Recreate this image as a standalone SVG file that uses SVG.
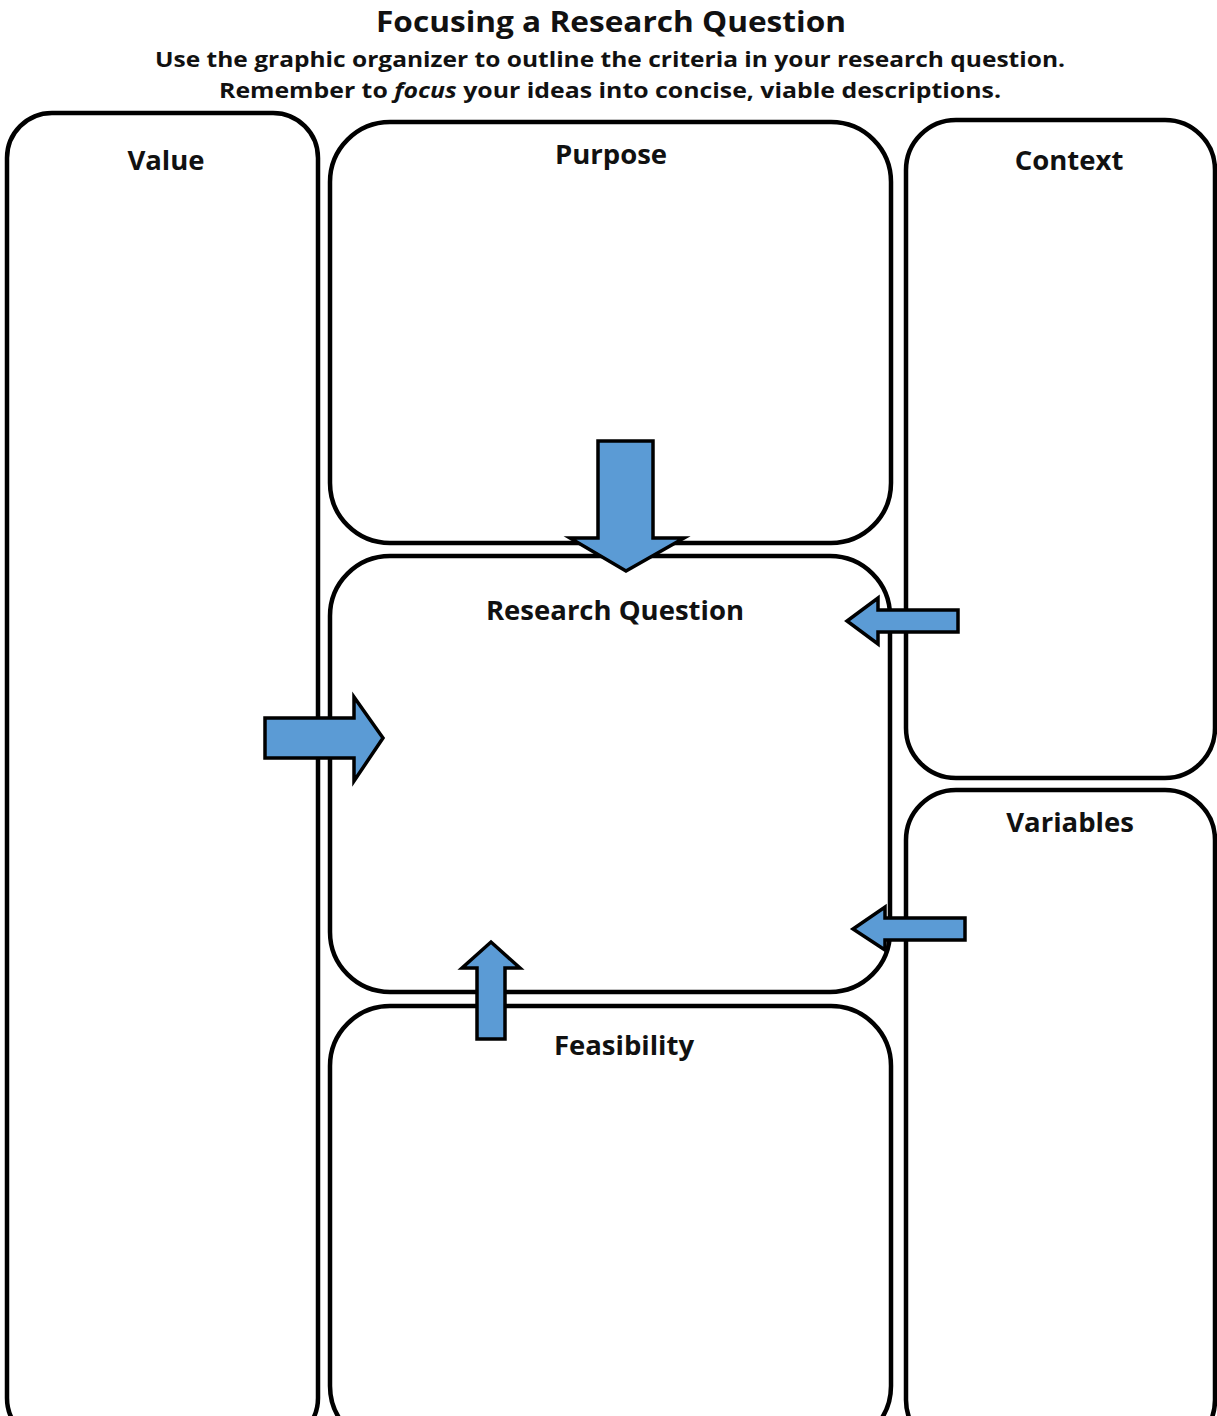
<svg xmlns="http://www.w3.org/2000/svg" width="1217" height="1416" viewBox="0 0 1217 1416">
<style>
.box{fill:none;stroke:#000;stroke-width:4.5}
.arrow{fill:#5b9bd5;stroke:#000;stroke-width:3.5;stroke-linejoin:miter}
.lbl{font-family:"Open Sans","Noto Sans","Liberation Sans",sans-serif;font-weight:bold;font-size:27.5px;fill:#111;text-anchor:middle}
.ttl{font-family:"Open Sans","Noto Sans","Liberation Sans",sans-serif;font-weight:bold;fill:#111;text-anchor:middle}
</style>
<rect width="1217" height="1416" fill="#fff"/>
<g id="title">
<text class="ttl" x="611" y="32" font-size="29" textLength="470" lengthAdjust="spacingAndGlyphs">Focusing a Research Question</text>
<text class="ttl" x="610" y="67" font-size="21" textLength="910" lengthAdjust="spacingAndGlyphs">Use the graphic organizer to outline the criteria in your research question.</text>
<text class="ttl" x="610" y="98" font-size="21" textLength="782" lengthAdjust="spacingAndGlyphs">Remember to <tspan font-style="italic">focus</tspan> your ideas into concise, viable descriptions.</text>
</g>
<g id="value">
<rect class="box" x="7" y="113" width="311" height="1330" rx="45"/>
<text class="lbl" x="166" y="170">Value</text>
</g>
<g id="purpose">
<rect class="box" x="330" y="122" width="561" height="421" rx="60"/>
<text class="lbl" x="611" y="164">Purpose</text>
</g>
<g id="research-question">
<rect class="box" x="330" y="556" width="560" height="436" rx="60"/>
<text class="lbl" x="615" y="620">Research Question</text>
</g>
<g id="feasibility">
<rect class="box" x="330" y="1006" width="561" height="440" rx="60"/>
<text class="lbl" x="624" y="1055">Feasibility</text>
</g>
<g id="context">
<rect class="box" x="906" y="120" width="309" height="658" rx="50"/>
<text class="lbl" x="1069" y="170">Context</text>
</g>
<g id="variables">
<rect class="box" x="906" y="790" width="309" height="660" rx="50"/>
<text class="lbl" x="1070" y="832">Variables</text>
</g>
<g id="connectors">
<polygon class="arrow" points="598,441 653,441 653,538 684,538 626,571 570,538 598,538"/>
<polygon class="arrow" points="265,718 354,718 354,697 383,738 354,781 354,758 265,758"/>
<polygon class="arrow" points="958,610 878,610 878,598 847,621 878,644 878,632 958,632"/>
<polygon class="arrow" points="965,918 885,918 885,907 853,929 885,950 885,940 965,940"/>
<polygon class="arrow" points="477,1039 505,1039 505,968 520,968 491,942 462,968 477,968"/>
</g>
</svg>
